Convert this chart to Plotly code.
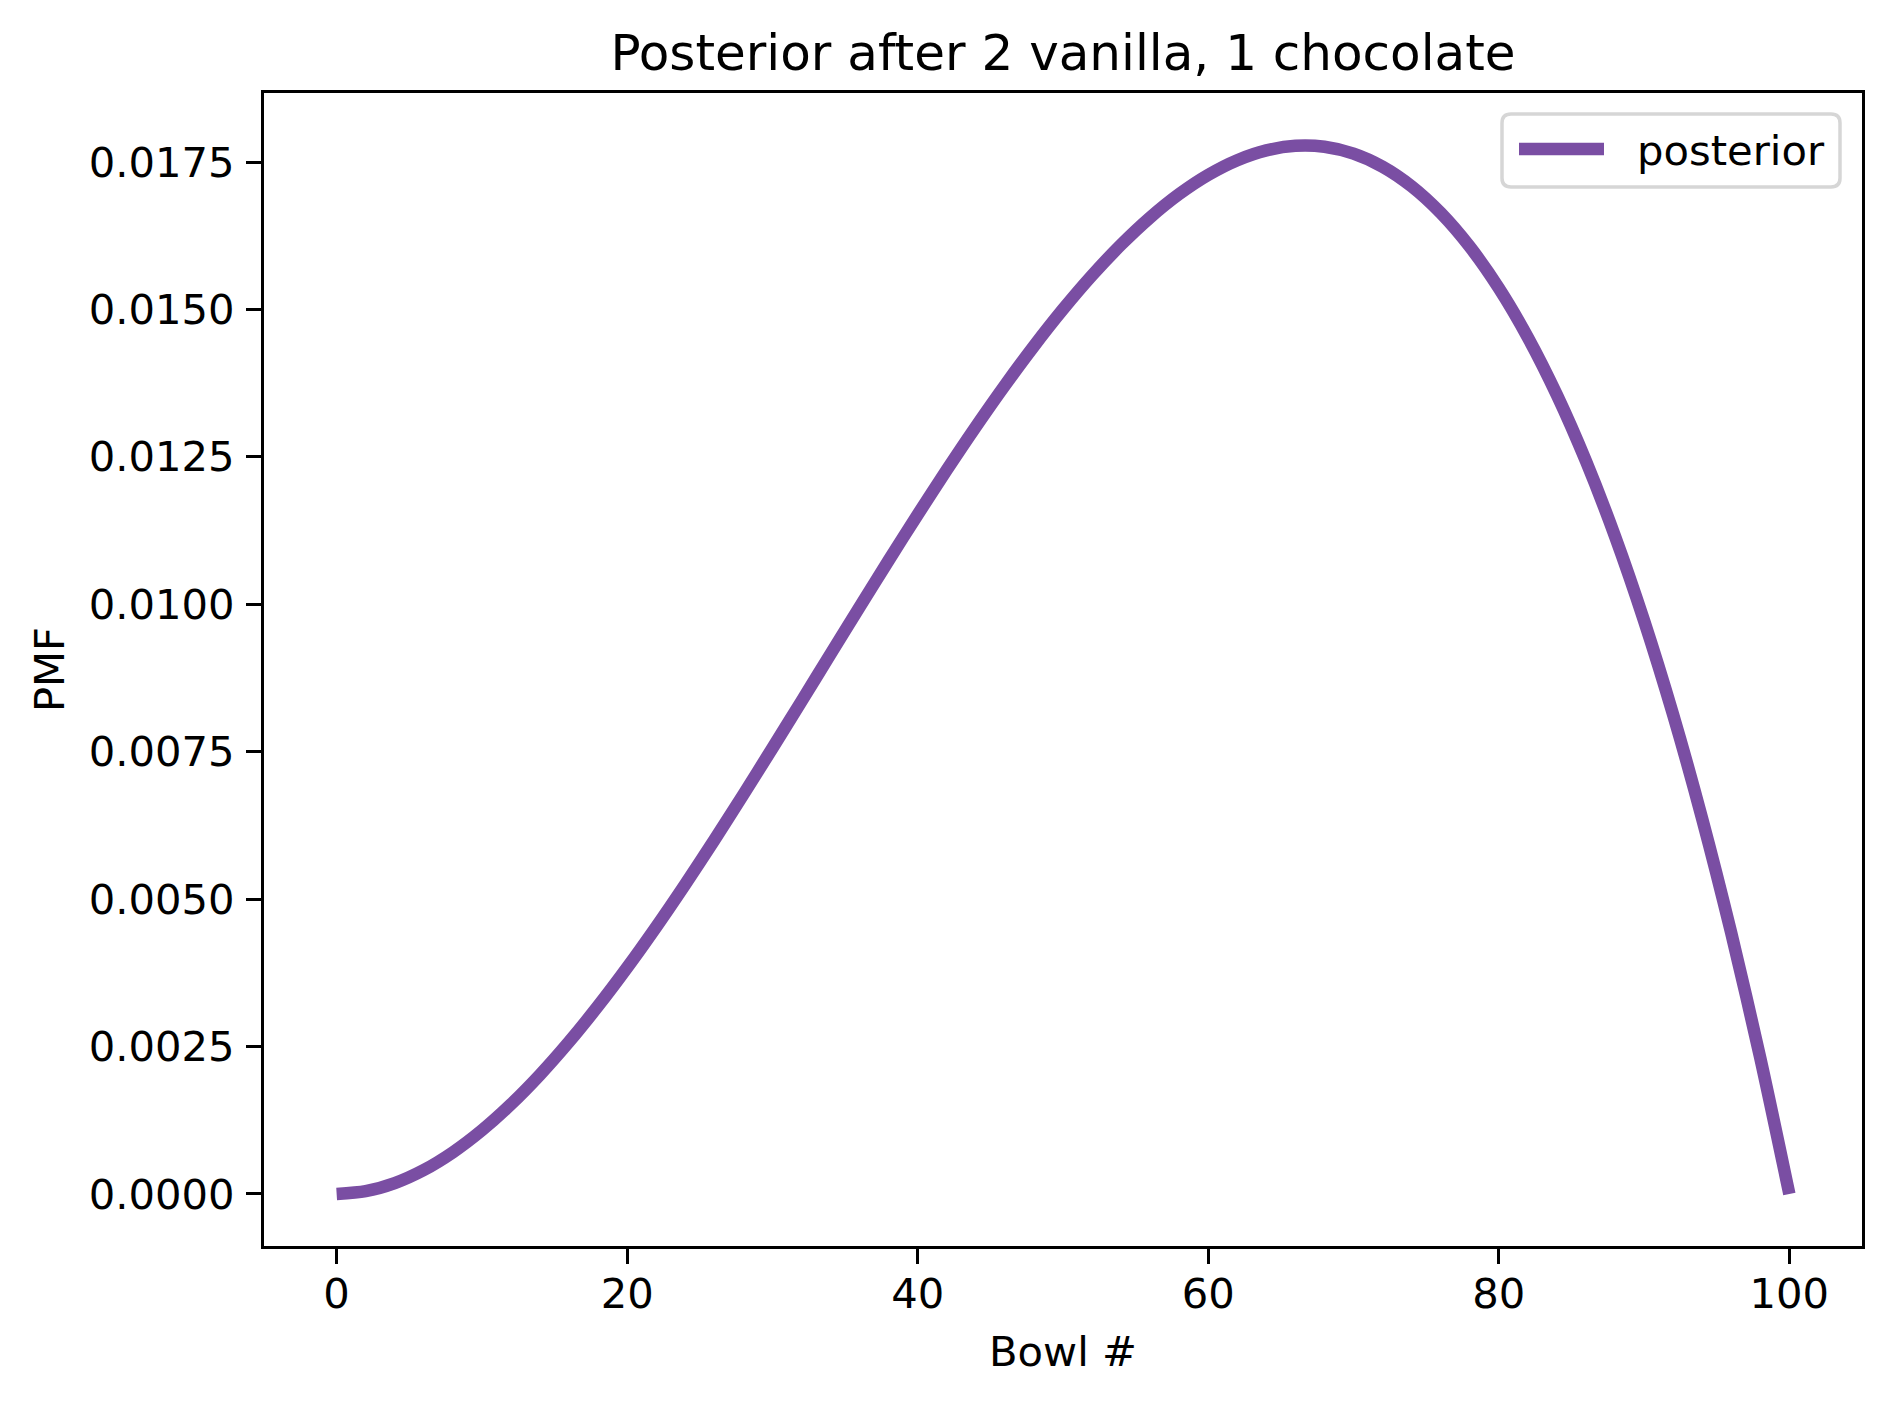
import plotly.graph_objects as go

# Bowl numbers and posterior PMF values
bowls = list(range(0, 101, 2))
posterior = [0.0, 0.0000470, 0.0001843, 0.0004061, 0.0007066, 0.0010801, 0.0015208,
             0.0020229, 0.0025807, 0.0031885, 0.0038404, 0.0045307, 0.0052537,
             0.0060035, 0.0067745, 0.0075608, 0.0083567, 0.0091564, 0.0099543,
             0.0107444, 0.0115212, 0.0122787, 0.0130112, 0.0137130, 0.0143784,
             0.0150015, 0.0155766, 0.0160979, 0.0165597, 0.0169563, 0.0172817,
             0.0175304, 0.0176965, 0.0177743, 0.0177580, 0.0176418, 0.0174200,
             0.0170868, 0.0166365, 0.0160634, 0.0153615, 0.0145253, 0.0135489,
             0.0124265, 0.0111525, 0.0097210, 0.0081262, 0.0063626, 0.0044241,
             0.0023052, 0.0]

x_ticks = [0, 20, 40, 60, 80, 100]
y_ticks = [0.0, 0.0025, 0.005, 0.0075, 0.01, 0.0125, 0.015, 0.0175]
y_tick_text = ["%.4f" % v for v in y_ticks]
series_name = "posterior"

W, H = 1890, 1406
L, R, T, B = 264, 28, 93, 160
PW, PH = W - L - R, H - T - B
FONT = "DejaVu Sans"
FS = 41.7
COLOR = "#7a4ea3"


def px(x):
    return (x - L) / PW


def py(y):
    return (H - B - y) / PH


fig = go.Figure()
fig.add_trace(go.Scatter(
    x=bowls, y=posterior, mode="lines", name=series_name,
    line=dict(color=COLOR, width=12.5, shape="spline", smoothing=0.8), showlegend=False,
))

# legend drawn as in the original (rounded frame, long line sample)
x0, x1, y0, y1, r = 1502, 1840, 114, 187, 9
rx, ry = r / PW, r / PH
path = (f"M {px(x0)+rx},{py(y0)} L {px(x1)-rx},{py(y0)} Q {px(x1)},{py(y0)} {px(x1)},{py(y0)-ry} "
        f"L {px(x1)},{py(y1)+ry} Q {px(x1)},{py(y1)} {px(x1)-rx},{py(y1)} "
        f"L {px(x0)+rx},{py(y1)} Q {px(x0)},{py(y1)} {px(x0)},{py(y1)+ry} "
        f"L {px(x0)},{py(y0)-ry} Q {px(x0)},{py(y0)} {px(x0)+rx},{py(y0)} Z")
fig.add_shape(type="path", path=path, xref="paper", yref="paper",
              line=dict(color="#d6d6d6", width=3.5), fillcolor="rgba(255,255,255,0.8)",
              layer="above")
fig.add_shape(type="line", xref="paper", yref="paper",
              x0=px(1519), x1=px(1604), y0=py(149), y1=py(149),
              line=dict(color=COLOR, width=12.5), layer="above")
fig.add_annotation(text=series_name, xref="paper", yref="paper",
                   x=px(1635), y=py(150), xanchor="left", yanchor="middle",
                   showarrow=False, font=dict(family=FONT, size=FS, color="black"))

fig.update_layout(
    width=W, height=H,
    margin=dict(l=L, r=R, t=T, b=B, autoexpand=False),
    paper_bgcolor="white", plot_bgcolor="white",
    font=dict(family=FONT, size=FS, color="black"),
    title=dict(text="Posterior after 2 vanilla, 1 chocolate",
               font=dict(family=FONT, size=50, color="black"),
               x=0.5, xref="paper", xanchor="center",
               y=1 - 52 / H, yref="container", yanchor="middle"),
    showlegend=False,
    xaxis=dict(range=[-5, 105], tickvals=x_ticks, ticktext=[str(v) for v in x_ticks],
               showgrid=False, zeroline=False, showline=True, linecolor="black", linewidth=3.3,
               mirror=True, ticks="outside", ticklen=15, tickwidth=3.3, tickcolor="black",
               ticklabelstandoff=-6,
               title=dict(text="Bowl #", font=dict(family=FONT, size=FS), standoff=20)),
    yaxis=dict(range=[-0.000882, 0.01867], tickvals=y_ticks, ticktext=y_tick_text,
               showgrid=False, zeroline=False, showline=True, linecolor="black", linewidth=3.3,
               mirror=True, ticks="outside", ticklen=15, tickwidth=3.3, tickcolor="black",
               ticklabelstandoff=3,
               title=dict(text="PMF", font=dict(family=FONT, size=FS), standoff=12)),
)

fig.write_html("out.html")
